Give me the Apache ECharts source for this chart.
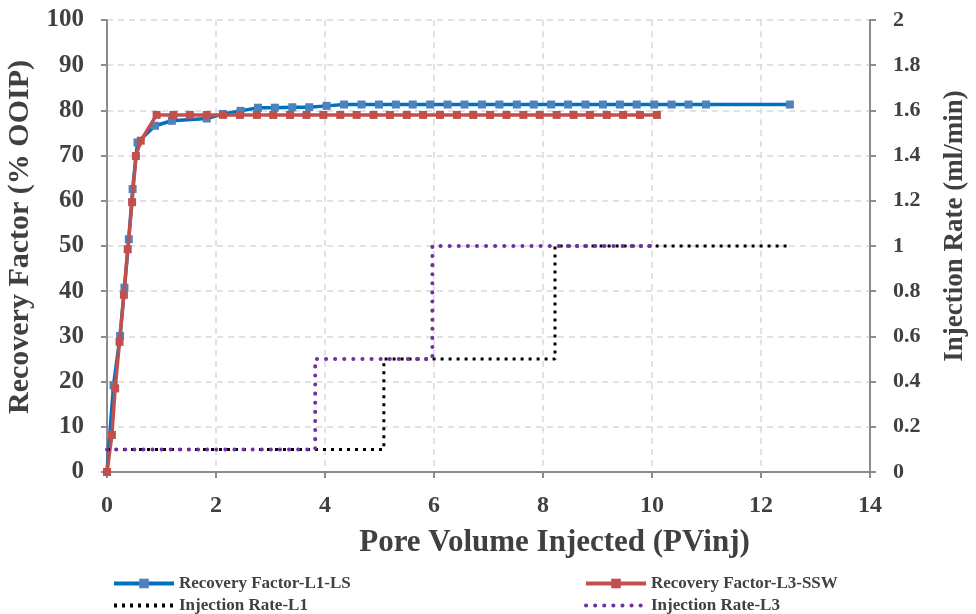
<!DOCTYPE html>
<html>
<head>
<meta charset="utf-8">
<script src="https://cdn.jsdelivr.net/npm/echarts@6/dist/echarts.min.js"></script>
<style>html,body{margin:0;padding:0;background:#fff}#c{width:976px;height:614px}</style>
</head>
<body>
<div id="c"></div>
<script>
var xTicks = [0, 2, 4, 6, 8, 10, 12, 14];
var rfL1 = [
  [0, 0], [0.12, 19.2], [0.24, 30.1], [0.32, 40.8], [0.40, 51.5], [0.47, 62.6], [0.56, 72.9],
  [0.88, 76.6], [1.19, 77.7], [1.83, 78.2], [2.13, 79.2], [2.45, 79.9], [2.77, 80.6], [3.08, 80.6],
  [3.40, 80.7], [3.71, 80.7], [4.03, 81.0], [4.35, 81.3], [4.67, 81.3], [4.99, 81.3], [5.30, 81.3],
  [5.61, 81.3], [5.93, 81.3], [6.25, 81.3], [6.56, 81.3], [6.88, 81.3], [7.20, 81.3], [7.52, 81.3],
  [7.83, 81.3], [8.15, 81.3], [8.46, 81.3], [8.78, 81.3], [9.10, 81.3], [9.41, 81.3], [9.72, 81.3],
  [10.04, 81.3], [10.36, 81.3], [10.67, 81.3], [10.99, 81.3], [12.53, 81.3]
];
var rfL3 = [
  [0, 0], [0.09, 8.2], [0.15, 18.5], [0.23, 28.8], [0.31, 39.2], [0.38, 49.3], [0.46, 59.7],
  [0.53, 69.9], [0.62, 73.3], [0.91, 79.0], [1.22, 79.0], [1.52, 79.0], [1.83, 79.0], [2.13, 79.0],
  [2.44, 79.0], [2.75, 79.0], [3.05, 79.0], [3.36, 79.0], [3.66, 79.0], [3.97, 79.0], [4.28, 79.0],
  [4.58, 79.0], [4.89, 79.0], [5.19, 79.0], [5.50, 79.0], [5.80, 79.0], [6.11, 79.0], [6.42, 79.0],
  [6.72, 79.0], [7.03, 79.0], [7.33, 79.0], [7.64, 79.0], [7.94, 79.0], [8.25, 79.0], [8.56, 79.0],
  [8.86, 79.0], [9.17, 79.0], [9.47, 79.0], [9.78, 79.0], [10.09, 79.0]
];
var injL1 = [[0, 0.1], [5.08, 0.1], [5.08, 0.5], [8.22, 0.5], [8.22, 1.0], [12.55, 1.0]];
var injL3 = [[0, 0.1], [3.82, 0.1], [3.82, 0.5], [5.97, 0.5], [5.97, 1.0], [10.09, 1.0]];
var names = ['Recovery Factor-L1-LS', 'Recovery Factor-L3-SSW', 'Injection Rate-L1', 'Injection Rate-L3'];

var FONT = '"Liberation Serif", "Times New Roman", serif';
var TXT = '#404040';
var AX = '#8c8c8c';
var SPLIT = {show: true, lineStyle: {color: '#d9d9d9', type: [6, 5], width: 1.5}};
var chart = echarts.init(document.getElementById('c'), null, {renderer: 'canvas'});
function mkLegend(name, left, top) {
  var dotted = name.indexOf('Injection') === 0;
  return {
    orient: 'horizontal', left: left, top: top, itemWidth: 60, itemHeight: 12, padding: 0,
    textStyle: {fontFamily: FONT, fontWeight: 'bold', fontSize: 17, color: TXT},
    lineStyle: {width: 4},
    data: [dotted ? {name: name, itemStyle: {opacity: 0}} : {name: name}]
  };
}
chart.setOption({
  animation: false,
  backgroundColor: '#fff',
  grid: {left: 107, right: 106, top: 20, bottom: 142, outerBoundsMode: 'none', containLabel: false},
  legend: [
    mkLegend(names[0], 112, 575),
    mkLegend(names[2], 112, 597),
    mkLegend(names[1], 584, 575),
    mkLegend(names[3], 584, 597)
  ],
  xAxis: {
    type: 'value', min: xTicks[0], max: xTicks[xTicks.length - 1], interval: 2,
    name: 'Pore Volume Injected (PVinj)', nameLocation: 'middle', nameGap: 55,
    nameTextStyle: {fontFamily: FONT, fontWeight: 'bold', fontSize: 31, color: TXT, padding: [0, 0, 0, 132]},
    axisLine: {lineStyle: {color: AX, width: 2}},
    axisTick: {show: true, length: 6, lineStyle: {color: AX, width: 2}},
    axisLabel: {fontFamily: FONT, fontWeight: 'bold', fontSize: 24, color: TXT, margin: 22},
    splitLine: SPLIT
  },
  yAxis: [{
    type: 'value', min: 0, max: 100, interval: 10,
    name: 'Recovery Factor (% OOIP)', nameLocation: 'middle', nameGap: 65,
    nameTextStyle: {fontFamily: FONT, fontWeight: 'bold', fontSize: 30, color: TXT, padding: [0, 0, 0, 18]},
    axisLine: {show: true, lineStyle: {color: AX, width: 2}},
    axisTick: {show: true, length: 6, lineStyle: {color: AX, width: 2}},
    axisLabel: {fontFamily: FONT, fontWeight: 'bold', fontSize: 25, color: TXT, margin: 23},
    splitLine: SPLIT
  }, {
    type: 'value', min: 0, max: 2, interval: 0.2, position: 'right',
    name: 'Injection Rate (ml/min)', nameLocation: 'middle', nameGap: 72, nameRotate: 90,
    nameTextStyle: {fontFamily: FONT, fontWeight: 'bold', fontSize: 27, color: TXT, padding: [0, 0, 0, 40]},
    axisLine: {show: true, lineStyle: {color: AX, width: 2}},
    axisTick: {show: true, length: 6, lineStyle: {color: AX, width: 2}},
    axisLabel: {fontFamily: FONT, fontWeight: 'bold', fontSize: 22, color: TXT, margin: 23},
    splitLine: {show: false}
  }],
  series: [{
    name: names[0], type: 'line', data: rfL1, yAxisIndex: 0,
    symbol: 'rect', symbolSize: 8, showAllSymbol: true,
    itemStyle: {color: '#4F81BD'}, lineStyle: {color: '#0070C0', width: 3.5}, z: 2
  }, {
    name: names[1], type: 'line', data: rfL3, yAxisIndex: 0,
    symbol: 'rect', symbolSize: 8, showAllSymbol: true,
    itemStyle: {color: '#C0504D'}, lineStyle: {color: '#C0504D', width: 3.5}, z: 3
  }, {
    name: names[2], type: 'line', data: injL1, yAxisIndex: 1, symbol: 'none',
    itemStyle: {color: '#000'}, lineStyle: {color: '#000', width: 3, type: [3, 5], cap: 'butt'}, z: 4
  }, {
    name: names[3], type: 'line', data: injL3, yAxisIndex: 1, symbol: 'none',
    itemStyle: {color: '#7030A0'}, lineStyle: {color: '#7030A0', width: 4, type: [0.1, 9], cap: 'round'}, z: 5
  }]
});
</script>
</body>
</html>
